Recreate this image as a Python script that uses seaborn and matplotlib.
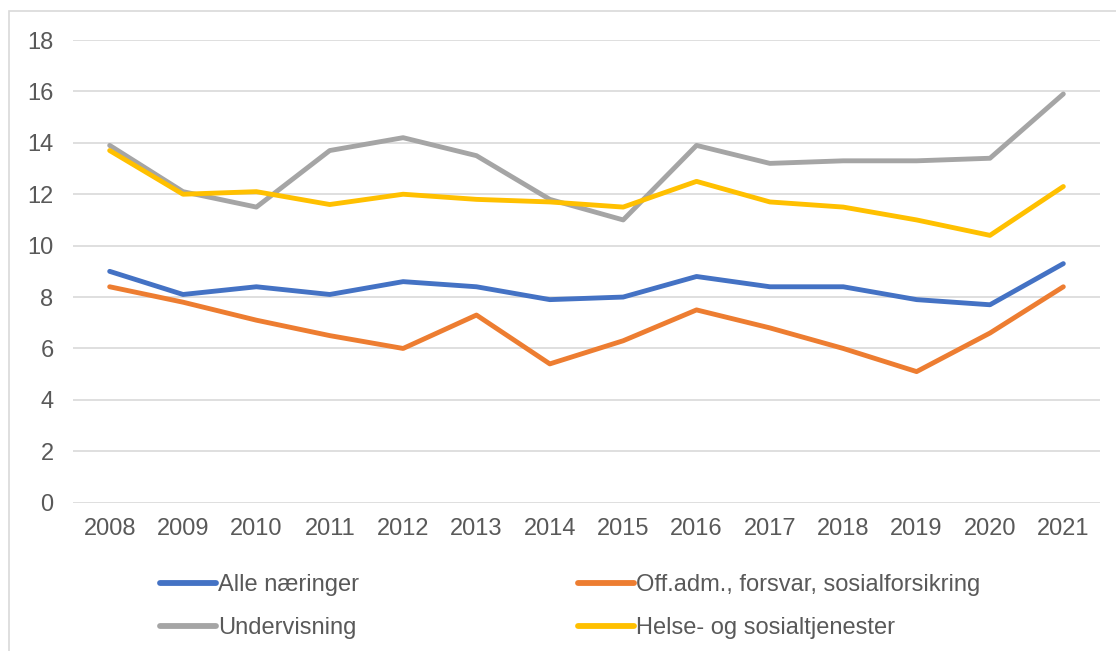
import numpy as np
import pandas as pd
import matplotlib
matplotlib.use("Agg")
import matplotlib.pyplot as plt
import seaborn as sns
from matplotlib.patches import Rectangle

# data
years = ["2008", "2009", "2010", "2011", "2012", "2013", "2014",
         "2015", "2016", "2017", "2018", "2019", "2020", "2021"]

alle = [9.0, 8.1, 8.4, 8.1, 8.6, 8.4, 7.9, 8.0, 8.8, 8.4, 8.4, 7.9, 7.7, 9.3]
offadm = [8.4, 7.8, 7.1, 6.5, 6.0, 7.3, 5.4, 6.3, 7.5, 6.8, 6.0, 5.1, 6.6, 8.4]
undervisning = [13.9, 12.1, 11.5, 13.7, 14.2, 13.5, 11.8, 11.0, 13.9, 13.2, 13.3, 13.3, 13.4, 15.9]
helse = [13.7, 12.0, 12.1, 11.6, 12.0, 11.8, 11.7, 11.5, 12.5, 11.7, 11.5, 11.0, 10.4, 12.3]

series_names = ["Alle næringer", "Off.adm., forsvar, sosialforsikring",
                "Undervisning", "Helse- og sosialtjenester"]
colors = ["#4472C4", "#ED7D31", "#A5A5A5", "#FFC000"]

# long format for seaborn
df = pd.concat([
    pd.DataFrame({"year": years, "value": vals, "serie": name})
    for name, vals in zip(series_names, [alle, offadm, undervisning, helse])
])

sns.set_theme(style="white")
plt.rcParams["font.family"] = ["Liberation Sans", "DejaVu Sans"]

fig = plt.figure(figsize=(11.16, 6.51), dpi=100)
ax = fig.add_axes([73 / 1116, 1 - 502.7 / 651, (1100 - 73) / 1116, (502.7 - 40) / 651])

sns.lineplot(data=df, x="year", y="value", hue="serie", palette=colors,
             hue_order=series_names, linewidth=3.5, ax=ax, sort=False,
             solid_capstyle="round")

ax.set_xlim(-0.5, 13.5)
ax.set_ylim(0, 18)
ax.set_yticks(range(0, 19, 2))
ax.yaxis.grid(True, color="#D9D9D9", linewidth=1.2)
ax.set_axisbelow(True)
for s in ax.spines.values():
    s.set_visible(False)
ax.tick_params(axis="both", length=0, labelsize=17, labelcolor="#595959")
ax.tick_params(axis="y", pad=14)
ax.tick_params(axis="x", pad=11)
ax.set_xlabel("")
ax.set_ylabel("")

# legend below the chart, two columns (row-wise order like Excel)
handles, labels = ax.get_legend_handles_labels()
ax.get_legend().remove()
order = [0, 2, 1, 3]
leg = fig.legend([handles[i] for i in order], [labels[i] for i in order],
                 ncol=2, loc="upper left", bbox_to_anchor=(160 / 1116, 1 - 574 / 651),
                 frameon=False, fontsize=17, labelcolor="#595959",
                 handlelength=2.37, handletextpad=0.08, columnspacing=9.3,
                 labelspacing=0.88, borderpad=0, borderaxespad=0)
for h in leg.get_lines():
    h.set_linewidth(4.2)
    h.set_solid_capstyle("round")

# thin frame around the chart area
fig.patches.append(Rectangle((9 / 1116, -0.1), 1.2, 1 - 11 / 651 + 0.1,
                             transform=fig.transFigure, fill=False,
                             edgecolor="#D9D9D9", linewidth=1.2))

fig.savefig("out.png", dpi=100)
